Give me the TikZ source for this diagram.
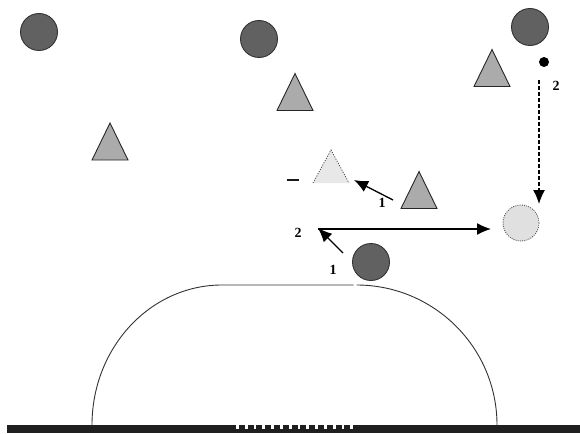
\documentclass[tikz,border=0pt]{standalone}
\usepackage{fontspec}
\setmainfont{Liberation Serif}
\usetikzlibrary{arrows.meta}
\begin{document}
\begin{tikzpicture}[x=1pt,y=-1pt,
  ball/.style={circle,draw=black!80,fill=black!62,line width=0.9pt,minimum size=37pt,inner sep=0pt},
  ghostball/.style={circle,draw=black!70,fill=black!12,dash pattern=on 1pt off 1.2pt,line width=0.8pt,minimum size=36pt,inner sep=0pt},
  dotnode/.style={circle,fill=black,minimum size=10pt,inner sep=0pt},
  lab/.style={font=\bfseries\fontsize{14}{14}\selectfont,inner sep=0pt},
  move/.style={line width=1.3pt,-{Latex[length=14pt,width=12pt]}},
  tri/.pic={\draw[draw=black!85,fill=black!33,line width=0.9pt,line join=miter]
      (-18,18.5) coordinate (-bl) -- (0,-18.5) coordinate (-top) -- (18,18.5) coordinate (-br) -- cycle;
      \coordinate (-c) at (0,0);},
  ghosttri/.pic={\fill[black!9] (-18,16.5) -- (0,-16.5) -- (18,16.5) -- cycle;
      \draw[black!75,line width=0.8pt,dash pattern=on 1pt off 1.5pt]
      (-18,16.5) coordinate (-bl) -- (0,-16.5) coordinate (-top) -- (18,16.5) coordinate (-br);
      \coordinate (-c) at (0,0);}
]
\fill[white] (0,0) rectangle (580,433);
\useasboundingbox (0,0) rectangle (580,433);

% ground bar
\fill[black!88] (7,425) rectangle (580,433);
\draw[white,line width=4pt,dash pattern=on 2.8pt off 6pt] (236,426.5) -- (357,426.5);

% dome
\draw[black!80,line width=0.9pt] (92,425) arc[start angle=180,end angle=270,x radius=130,y radius=140] -- (353.5,285);
\draw[black!80,line width=0.9pt] (356.5,285) arc[start angle=270,end angle=360,x radius=140.5,y radius=140];

% balls
\node[ball] (c1) at (39,32) {};
\node[ball] (c2) at (259,39) {};
\node[ball] (c3) at (530,27) {};
\node[ball] (c4) at (371,262) {};
\node[ghostball] (g1) at (521,223) {};
\node[dotnode] (d1) at (544,62) {};

% triangles
\pic (t1) at (110,141.5) {tri};
\pic (t2) at (295,92) {tri};
\pic (t3) at (492,68) {tri};
\pic (t4) at (419,190) {tri};
\pic (gt) at (331,166.5) {ghosttri};

% labels
\node[inner sep=0pt] (minus) at (292.5,180) {\color{black!90}\rule{12pt}{2.6pt}};
\node[lab] (l1a) at (382,203) {1};
\node[lab] (l2a) at (298,233) {2};
\node[lab] (l1b) at (333,270) {1};
\node[lab] (l2b) at (556,86) {2};

% arrow end points
\coordinate (a1s) at (393,200);
\coordinate (a1e) at (354,180);
\coordinate (a2s) at (343,253);
\coordinate (a2e) at (318,228);
\coordinate (a3e) at (491,229);
\coordinate (a4s) at (539,80);
\coordinate (a4e) at (539,204);

\draw[move] (a1s) -- (a1e);
\draw[move] (a2s) -- (a2e);
\draw[move] (a2e |- a3e) -- (a3e);
\draw[move,dash pattern=on 4pt off 2pt] (a4s) -- (a4e);
\end{tikzpicture}
\end{document}
